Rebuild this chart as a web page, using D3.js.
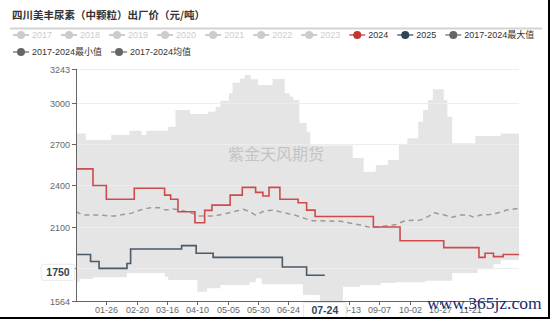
<!DOCTYPE html><html lang="zh-CN"><head><meta charset="UTF-8"><title>四川美丰尿素（中颗粒）出厂价</title><script src="https://d3js.org/d3.v7.min.js"></script><style>
        body {
            margin: 0;
            background: #fff;
            font-family: "Liberation Sans", "Noto Sans CJK SC", sans-serif;
        }
        svg { display: block; }
        .grid line { stroke: #ededed; stroke-width: 1; }
        .axis-label { font-size: 9px; fill: #666; }
        .band { fill: #e5e5e5; }
        .line { fill: none; }
    </style></head><body><svg id="chart"></svg><script>
        // ---- data ----
        const titleText = "四川美丰尿素（中颗粒）出厂价（元/吨）";
        const legendNames = ["2017", "2018", "2019", "2020", "2021", "2022", "2023", "2024", "2025",
            "2017-2024最大值", "2017-2024最小值", "2017-2024均值"];
        const legendColors = ["#ccc", "#ccc", "#ccc", "#ccc", "#ccc", "#ccc", "#ccc", "#c23531", "#2f4554",
            "#666", "#666", "#666"];
        const legendActive = [false, false, false, false, false, false, false, true, true, true, true, true];

        const xTickLabels = ["01-26", "02-20", "03-16", "04-10", "05-05", "05-30", "06-24", "07-19",
            "08-13", "09-07", "10-02", "10-27", "11-21"];
        const yTicks = [1564, 1800, 2100, 2400, 2700, 3000, 3243];

        // 2017-2024 max (step)
        const maxDates = ["01-01", "01-09", "01-30", "02-14", "02-24", "02-28", "03-17", "03-23", "04-04", "04-19",
            "04-25", "04-29", "05-06", "05-09", "05-15", "05-19", "05-24", "05-30", "06-11", "06-21", "06-25",
            "06-28", "07-03", "07-09", "07-12", "08-16", "08-25", "09-04", "09-14", "09-23", "09-30", "10-09",
            "10-13", "10-17", "10-21", "10-30", "11-02", "11-06", "11-25", "12-16", "12-31"];
        const maxValues = [2777, 2729, 2765, 2796, 2765, 2796, 2825, 2946, 2917, 2934,
            2970, 3013, 3067, 3144, 3175, 3199, 3168, 3127, 3170, 3067, 3043,
            3019, 2852, 2789, 2690, 2599, 2500, 2548, 2584, 2700, 2741, 2861,
            2946, 3019, 3096, 3019, 2898, 2705, 2758, 2777, 2777];

        // 2017-2024 min (step)
        const minDates = ["01-01", "01-04", "01-15", "02-12", "03-14", "03-17", "04-10", "04-18", "04-29", "05-23",
            "05-28", "06-02", "07-06", "07-20", "08-08", "08-22", "09-08", "09-20", "10-15", "11-06", "11-27",
            "12-10", "12-16", "12-31"];
        const minValues = [1704, 1723, 1735, 1766, 1740, 1716, 1631, 1656, 1680, 1700,
            1728, 1685, 1607, 1564, 1667, 1680, 1694, 1700, 1710, 1766, 1793,
            1830, 1861, 1861];

        // 2017-2024 mean
        const meanDates = ["01-01", "01-07", "01-21", "01-27", "02-02", "02-10", "02-16", "02-23", "03-02", "03-10",
            "03-15", "03-22", "03-30", "04-06", "04-11", "04-24", "05-04", "05-12", "05-18", "05-23", "05-28",
            "06-03", "06-11", "06-19", "06-29", "07-08", "07-14", "08-06", "08-16", "08-24", "08-30", "09-08",
            "09-20", "09-28", "10-11", "10-17", "10-22", "10-29", "11-06", "11-13", "11-19", "11-24", "11-29",
            "12-07", "12-14", "12-21", "12-31"];
        const meanValues = [2210, 2186, 2186, 2180, 2180, 2191, 2200, 2222, 2239, 2239,
            2222, 2229, 2215, 2198, 2180, 2180, 2198, 2215, 2227, 2211, 2186,
            2211, 2222, 2206, 2186, 2160, 2145, 2141, 2124, 2112, 2097, 2103,
            2115, 2145, 2150, 2175, 2202, 2190, 2170, 2186, 2186, 2170, 2186,
            2190, 2202, 2222, 2234];

        // 2024 (step)
        const dates2024 = ["01-01", "01-15", "01-26", "02-18", "03-14", "03-19", "03-25", "04-08", "04-16", "04-22",
            "05-07", "05-17", "05-28", "06-03", "06-08", "06-17", "07-02", "07-09", "07-16", "09-02", "09-24",
            "10-30", "11-28", "12-03", "12-10", "12-18", "12-31"];
        const values2024 = [2520, 2400, 2300, 2380, 2330, 2300, 2210, 2130, 2220, 2258,
            2330, 2386, 2350, 2324, 2386, 2300, 2275, 2222, 2175, 2100, 2000,
            1950, 1880, 1910, 1885, 1900, 1900];

        // 2025 (step)
        const dates2025 = ["01-01", "01-13", "01-20", "02-12", "02-15", "03-28", "04-09", "04-23", "06-19", "07-09", "07-24"];
        const values2025 = [1900, 1850, 1800, 1835, 1940, 1965, 1910, 1880, 1810, 1750, 1750];

        const pointerDate = "07-24";
        const pointerValue = 1750;

        // ---- layout ----
        const width = 550, height = 319;
        const svg = d3.select("#chart").attr("width", width).attr("height", height);

        const parse = d3.timeParse("%Y-%m-%d");
        const toDate = s => parse("2024-" + s);

        const x = d3.scaleTime()
            .domain([toDate("01-01"), toDate("12-31")])
            .range([76, 519]);
        const y = d3.scaleLinear()
            .domain([1564, 3243])
            .range([301, 69]);

        const zip = (ds, vs) => ds.map((d, i) => ({ date: toDate(d), value: vs[i] }));

        // title
        svg.append("text")
            .attr("x", 12).attr("y", 19)
            .attr("font-family", "'Noto Sans CJK SC', sans-serif")
            .attr("font-weight", "bold")
            .attr("font-size", 10.5)
            .attr("fill", "#333")
            .text(titleText);
        svg.append("line")
            .attr("x1", 10).attr("x2", 542).attr("y1", 28.5).attr("y2", 28.5)
            .attr("stroke", "#d4d4d4").attr("stroke-width", 2);

        // legend
        const legend = svg.append("g");
        let lx = 13, ly = 35;
        legendNames.forEach((name, i) => {
            if (i === 10) { lx = 13; ly = 52; }
            const g = legend.append("g").attr("transform", `translate(${lx},${ly})`);
            const c = legendColors[i];
            g.append("line").attr("x1", 0).attr("x2", 16).attr("y1", 0).attr("y2", 0)
                .attr("stroke", c).attr("stroke-width", 2).attr("opacity", legendActive[i] ? 0.6 : 1);
            g.append("circle").attr("cx", 8).attr("cy", 0).attr("r", 4).attr("fill", c);
            const t = g.append("text").attr("x", 19).attr("y", 3.3)
                .attr("font-size", 9)
                .attr("fill", legendActive[i] ? "#333" : "#ccc")
                .text(name);
            lx += 19 + t.node().getComputedTextLength() + 9;
        });

        // band between min and max
        const maxData = zip(maxDates, maxValues);
        const minData = zip(minDates, minValues);
        const bandDates = Array.from(new Set(maxDates.concat(minDates))).sort();
        const stepVal = (data, d) => {
            let v = data[0].value;
            for (const p of data) { if (p.date <= d) v = p.value; }
            return v;
        };
        const bandData = bandDates.map(s => {
            const d = toDate(s);
            return { date: d, hi: stepVal(maxData, d), lo: stepVal(minData, d) };
        });
        svg.append("path")
            .datum(bandData)
            .attr("class", "band")
            .attr("d", d3.area()
                .curve(d3.curveStepAfter)
                .x(d => x(d.date))
                .y0(d => y(d.lo))
                .y1(d => y(d.hi)));

        // grid
        const grid = svg.append("g").attr("class", "grid");
        grid.selectAll("line")
            .data(yTicks.filter(v => v !== 1564))
            .enter().append("line")
            .attr("x1", 76).attr("x2", 519)
            .attr("y1", d => Math.round(y(d)) + 0.5)
            .attr("y2", d => Math.round(y(d)) + 0.5);

        // watermark
        svg.append("text")
            .attr("x", 228).attr("y", 160)
            .attr("font-family", "'Noto Sans CJK SC', sans-serif")
            .attr("font-size", 16)
            .attr("fill", "#c4c4c4")
            .text("紫金天风期货");

        // lines
        const stepLine = d3.line().curve(d3.curveStepAfter).x(d => x(d.date)).y(d => y(d.value));
        const plainLine = d3.line().x(d => x(d.date)).y(d => y(d.value));

        svg.append("path").datum(zip(meanDates, meanValues))
            .attr("class", "line")
            .attr("stroke", "#9a9a9a").attr("stroke-width", 1.5)
            .attr("stroke-dasharray", "5,4")
            .attr("d", plainLine);
        svg.append("path").datum(zip(dates2024, values2024))
            .attr("class", "line")
            .attr("stroke", "#cf4b4b").attr("stroke-width", 1.6)
            .attr("d", stepLine);
        svg.append("path").datum(zip(dates2025, values2025))
            .attr("class", "line")
            .attr("stroke", "#4a5a68").attr("stroke-width", 1.6)
            .attr("d", stepLine);

        // y axis
        svg.append("line").attr("x1", 76.5).attr("x2", 76.5).attr("y1", 69).attr("y2", 301)
            .attr("stroke", "#666");
        const yt = svg.append("g");
        yTicks.forEach(v => {
            const yy = Math.round(y(v)) + 0.5;
            yt.append("line").attr("x1", 72).attr("x2", 76).attr("y1", yy).attr("y2", yy).attr("stroke", "#666");
            yt.append("text").attr("class", "axis-label")
                .attr("x", 70).attr("y", yy + 3.2).attr("text-anchor", "end").text(v);
        });

        // x axis
        svg.append("line").attr("x1", 76).attr("x2", 520).attr("y1", 301.5).attr("y2", 301.5)
            .attr("stroke", "#666");
        const xt = svg.append("g");
        xTickLabels.forEach(s => {
            const xx = Math.round(x(toDate(s))) + 0.5;
            xt.append("line").attr("x1", xx).attr("x2", xx).attr("y1", 301).attr("y2", 305).attr("stroke", "#666");
            xt.append("text").attr("class", "axis-label")
                .attr("x", xx).attr("y", 313).attr("text-anchor", "middle").text(s);
        });

        // axis pointer labels (white boxes over the axes)
        function pointerLabel(cx, cy, txt, pad) {
            const g = svg.append("g");
            const t = g.append("text")
                .attr("font-size", 10.5).attr("font-weight", "bold")
                .attr("fill", "#2f4554")
                .attr("text-anchor", "middle")
                .attr("x", cx).attr("y", cy + 3.8)
                .text(txt);
            const w = t.node().getComputedTextLength() + pad * 2;
            g.insert("rect", "text")
                .attr("x", cx - w / 2).attr("y", cy - 8).attr("width", w).attr("height", 16)
                .attr("fill", "#fff")
                .attr("stroke", "#e8e8e8")
                .attr("rx", 2);
        }
        pointerLabel(58, y(pointerValue) - 3, String(pointerValue), 5);
        pointerLabel(x(toDate(pointerDate)), 310.5, pointerDate, 8);

        // site watermark
        svg.append("text")
            .attr("x", 427).attr("y", 309)
            .attr("font-family", "'Liberation Serif', serif")
            .attr("font-size", 17.5)
            .attr("fill", "#1b2a6b")
            .text("www.365jz.com");

        // frame edges
        svg.append("line").attr("x1", 549).attr("x2", 549).attr("y1", 0).attr("y2", 319)
            .attr("stroke", "#000").attr("stroke-width", 2);
        svg.append("line").attr("x1", 0).attr("x2", 550).attr("y1", 318).attr("y2", 318)
            .attr("stroke", "#000").attr("stroke-width", 2);
    </script></body></html>
